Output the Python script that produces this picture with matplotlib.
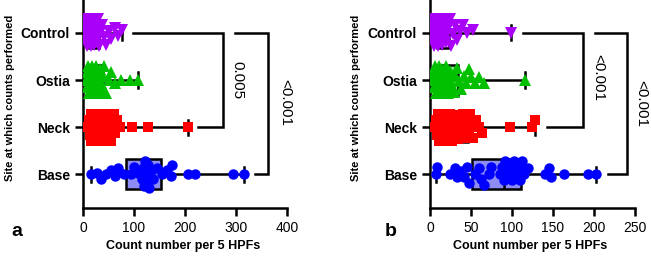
import matplotlib
matplotlib.use('Agg')
import matplotlib.pyplot as plt
import numpy as np

plt.rcParams['font.family'] = ['Liberation Sans', 'DejaVu Sans']

# categories, bottom to top
sites = ['Base', 'Neck', 'Ostia', 'Control']

# panel a counts
base_a = [15, 28, 35, 45, 55, 62, 68, 80, 95, 100, 108, 115, 118, 120, 122, 124, 125,
          127, 130, 133, 138, 145, 155, 165, 172, 175, 205, 220, 295, 316]
neck_a = [10, 12, 14, 15, 16, 18, 19, 20, 21, 22, 24, 25, 26, 28, 29, 30, 31, 32, 34, 35,
          36, 38, 40, 42, 44, 45, 48, 50, 52, 55, 58, 60, 63, 66, 72, 97, 127, 205]
ostia_a = [5, 7, 8, 10, 11, 12, 13, 14, 15, 16, 17, 18, 19, 20, 21, 22, 23, 24, 25, 26,
           28, 30, 32, 34, 36, 38, 40, 42, 45, 50, 55, 62, 75, 92, 107]
control_a = [3, 5, 6, 7, 8, 8, 9, 10, 10, 11, 12, 12, 13, 14, 15, 15, 16, 17, 18, 19, 20,
             20, 22, 23, 25, 26, 28, 30, 32, 35, 38, 42, 46, 50, 55, 62, 68, 76]

# panel b counts
base_b = [7, 9, 25, 30, 33, 38, 42, 45, 48, 55, 60, 62, 66, 72, 75, 85, 88, 90, 92, 95,
          97, 100, 103, 105, 108, 110, 112, 115, 120, 140, 145, 148, 163, 193, 203]
neck_b = [5, 7, 8, 10, 11, 12, 13, 14, 15, 16, 17, 18, 19, 20, 22, 24, 25, 27, 29, 30, 31,
          32, 34, 36, 38, 40, 42, 44, 45, 47, 49, 51, 53, 56, 60, 64, 98, 125, 128]
ostia_b = [3, 4, 5, 6, 7, 8, 9, 10, 10, 11, 12, 12, 13, 14, 15, 16, 17, 18, 19, 20, 21, 22,
           24, 25, 27, 29, 31, 33, 35, 38, 41, 44, 47, 50, 55, 60, 66, 116]
control_b = [2, 3, 4, 5, 5, 6, 6, 7, 7, 8, 8, 9, 9, 10, 10, 11, 11, 12, 12, 13, 14, 15, 16,
             17, 18, 19, 20, 22, 24, 26, 28, 30, 33, 36, 40, 45, 53, 99]

p_labels_a = ['0.005', '<0.001']
p_labels_b = ['<0.001', '<0.001']

# styles
pt_colors = ['#0000ff', '#ff0000', '#00c000', '#a800f8']
box_colors = ['#8c8cf4', '#f49090', '#90e890', '#d8a0f0']
markers = ['o', 's', '^', 'v']
msizes = [7.5, 7, 8, 8]


def swarm_offsets(ax, vals, ypos, size_px, half_px):
    order = np.argsort(vals)
    pix = ax.transData.transform(np.column_stack([vals, np.full(len(vals), ypos)]))
    step = 1.5
    cands = [0.0]
    k = 1
    while k * step <= half_px:
        cands += [k * step, -k * step]
        k += 1
    placed = []
    offs = np.zeros(len(vals))
    for i in order:
        px = pix[i, 0]
        best, best_score = 0.0, -1
        for o in cands:
            near = [(px - qx) ** 2 + (o - qo) ** 2 for qx, qo in placed if abs(px - qx) < size_px]
            score = np.sqrt(min(near)) if near else 1e9
            if score >= size_px * 0.75:
                best = o
                break
            if score > best_score:
                best, best_score = o, score
        placed.append((px, best))
        offs[i] = best
    y0 = ax.transData.transform([(0, ypos)])[0, 1]
    ys = [ax.transData.inverted().transform([(0, y0 + o)])[0, 1] for o in offs]
    return np.array(ys)


def draw_panel(ax, groups, xmax, xstep, brackets, labels, label_pos):
    ax.set_xlim(0, xmax)
    ax.set_ylim(-0.72, 3.7)
    bp = ax.boxplot(groups, positions=range(4), orientation='horizontal', widths=0.64,
                    whis=(0, 100), patch_artist=True, showfliers=False,
                    medianprops=dict(color='black', lw=1.8),
                    whiskerprops=dict(color='black', lw=1.8),
                    capprops=dict(color='black', lw=1.8, zorder=2),
                    boxprops=dict(edgecolor='black', lw=1.8))
    for patch, c in zip(bp['boxes'], box_colors):
        patch.set_facecolor(c)
    for i, vals in enumerate(groups):
        ys = swarm_offsets(ax, vals, i, 9, 14)
        ax.plot(vals, ys, linestyle='none', marker=markers[i], color=pt_colors[i],
                markersize=msizes[i], markeredgewidth=0, zorder=3)
    for (x0, xv, x1, ytop, ybot) in brackets:
        ax.plot([x0, xv, xv, x1], [ytop, ytop, ybot, ybot], color='black', lw=1.8,
                solid_joinstyle='miter')
    for txt, (tx, ty) in zip(labels, label_pos):
        ax.text(tx, ty, txt, rotation=270, ha='center', va='center', fontsize=11,
                clip_on=False)
    ax.set_xticks(np.arange(0, xmax + 1, xstep))
    ax.set_yticks(range(4))
    ax.set_yticklabels(sites, fontweight='bold', fontsize=10.5)
    ax.tick_params(axis='both', width=1.8, length=6, labelsize=10)
    for lab in ax.get_yticklabels():
        lab.set_fontweight('bold')
    for s in ['top', 'right']:
        ax.spines[s].set_visible(False)
    for s in ['left', 'bottom']:
        ax.spines[s].set_linewidth(1.8)
    ax.set_xlabel('Count number per 5 HPFs', fontweight='bold', fontsize=9)
    ax.set_ylabel('Site at which counts performed', fontweight='bold', fontsize=8)
    ax.xaxis.set_label_coords(0.49, -0.155)
    ax.yaxis.set_label_coords(-0.335, 0.53)


fig = plt.figure(figsize=(6.51, 2.56), dpi=100)
ax_a = fig.add_axes([0.1275, 0.1875, 0.3134, 0.8125])
ax_b = fig.add_axes([0.6605, 0.1875, 0.3149, 0.8125])

draw_panel(ax_a, [base_a, neck_a, ostia_a, control_a], 400, 100,
           [(98, 275, 225, 3, 1), (298, 363, 337, 3, 0)],
           p_labels_a, [(302, 2.0), (396, 1.53)])
draw_panel(ax_b, [base_b, neck_b, ostia_b, control_b], 250, 50,
           [(113, 187, 143, 3, 1), (201, 240, 217, 3, 0)],
           p_labels_b, [(205, 2.06), (258, 1.5)])

fig.text(0.018, 0.094, 'a', fontsize=14, fontweight='bold', va='center')
fig.text(0.591, 0.094, 'b', fontsize=14, fontweight='bold', va='center')

fig.savefig('out.png', dpi=100)
